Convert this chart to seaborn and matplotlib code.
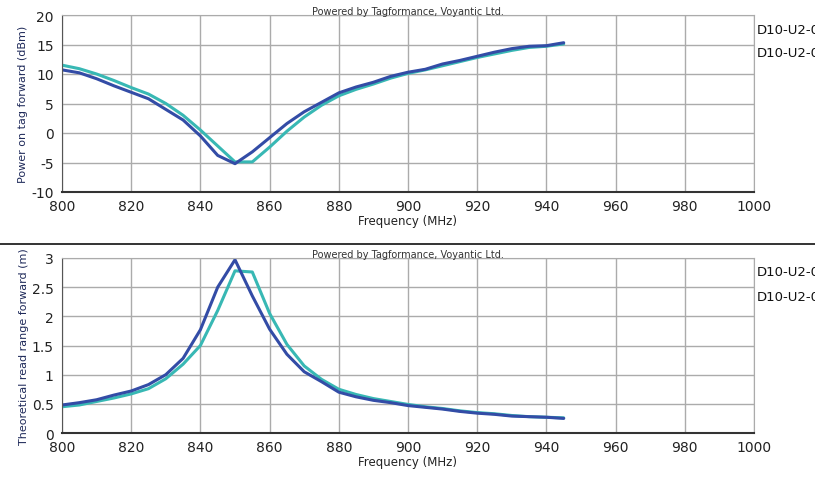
import numpy as np
import pandas as pd
import matplotlib
matplotlib.use("Agg")
import matplotlib.pyplot as plt
import matplotlib.ticker as mticker
from matplotlib.lines import Line2D
import seaborn as sns

# frequencies (MHz)
freq = list(range(800, 950, 5))

# power on tag forward (dBm)
power_a = [10.7, 10.2, 9.2, 8.0, 6.9, 5.8, 4.0, 2.2, -0.5, -3.8, -5.2, -3.2, -0.8, 1.6, 3.6,
           5.2, 6.8, 7.8, 8.6, 9.6, 10.3, 10.8, 11.7, 12.3, 13.0, 13.7, 14.3, 14.7, 14.8, 15.3]
power_b = [11.5, 10.9, 10.0, 8.9, 7.7, 6.6, 5.0, 3.0, 0.5, -2.2, -4.9, -4.9, -2.4, 0.3, 2.7,
           4.7, 6.3, 7.4, 8.3, 9.3, 10.1, 10.7, 11.4, 12.1, 12.8, 13.4, 14.0, 14.5, 14.7, 15.1]

# theoretical read range forward (m)
range_a = [0.48, 0.52, 0.57, 0.65, 0.72, 0.83, 1.0, 1.28, 1.77, 2.5, 2.97, 2.35, 1.78, 1.35, 1.05,
           0.88, 0.70, 0.62, 0.56, 0.52, 0.47, 0.44, 0.41, 0.37, 0.34, 0.32, 0.29, 0.28, 0.27, 0.25]
range_b = [0.45, 0.48, 0.54, 0.60, 0.67, 0.76, 0.93, 1.18, 1.5, 2.1, 2.78, 2.76, 2.05, 1.52, 1.15,
           0.92, 0.75, 0.66, 0.59, 0.54, 0.49, 0.45, 0.42, 0.38, 0.35, 0.33, 0.30, 0.28, 0.27, 0.26]

series_names = ["D10-U2-01", "D10-U2-02"]
colors = {"D10-U2-01": "#334ca6", "D10-U2-02": "#38b8b4"}

def to_long(a, b):
    return pd.DataFrame({
        "freq": freq + freq,
        "value": a + b,
        "tag": [series_names[0]] * len(a) + [series_names[1]] * len(b),
    })

sns.set_style("white")
plt.rcParams['font.family'] = ['DejaVu Sans']

fig = plt.figure(figsize=(8.15, 4.81), dpi=100)
ax1 = fig.add_axes([62 / 815, 1 - 193 / 481, 692 / 815, 177 / 481])
ax2 = fig.add_axes([62 / 815, 1 - 434 / 481, 692 / 815, 175 / 481])

panels = [
    (ax1, to_long(power_a, power_b), "Power on tag forward (dBm)", (-10, 20), 5),
    (ax2, to_long(range_a, range_b), "Theoretical read range forward (m)", (0, 3), 0.5),
]

for ax, df, ylab, ylim, step in panels:
    # teal first, dark blue on top
    sns.lineplot(data=df, x="freq", y="value", hue="tag", hue_order=series_names[::-1],
                 palette=colors, linewidth=2.2, ax=ax, legend=False)
    ax.set_xlim(800, 1000)
    ax.set_ylim(*ylim)
    ax.xaxis.set_major_locator(mticker.MultipleLocator(20))
    ax.yaxis.set_major_locator(mticker.MultipleLocator(step))
    ax.yaxis.set_major_formatter(mticker.FuncFormatter(lambda v, p: f"{v:g}"))
    ax.grid(True, color="#ababab", linewidth=1.0)
    ax.set_axisbelow(True)
    ax.tick_params(axis="both", labelsize=10, colors="#222222", length=4, width=1, pad=2)
    ax.tick_params(axis="x", length=0, pad=5)
    for s in ["top", "right"]:
        ax.spines[s].set_color("#ababab")
    ax.spines["left"].set_color("#555555")
    ax.spines["bottom"].set_color("#333333")
    ax.spines["bottom"].set_linewidth(1.5)
    ax.set_xlabel("Frequency (MHz)", fontsize=8.5, color="#222222", labelpad=1)
    ax.set_ylabel(ylab, fontsize=8, color="#1f2a5a", labelpad=2)
    ax.text(0.5, 0.995, "Powered by Tagformance, Voyantic Ltd.", transform=ax.transAxes,
            ha="center", va="bottom", fontsize=7, color="#333333")
    ax.text(1.004, 0.92, series_names[0], transform=ax.transAxes, ha="left", va="center",
            fontsize=9.5, color="#111111")
    ax.text(1.004, 0.79 if ax is ax1 else 0.78, series_names[1], transform=ax.transAxes,
            ha="left", va="center", fontsize=9.5, color="#111111")

# separator line between panels
fig.add_artist(Line2D([0, 1], [1 - 245 / 481, 1 - 245 / 481], color="#111111", linewidth=1.2))

fig.savefig("out.png", dpi=100)
